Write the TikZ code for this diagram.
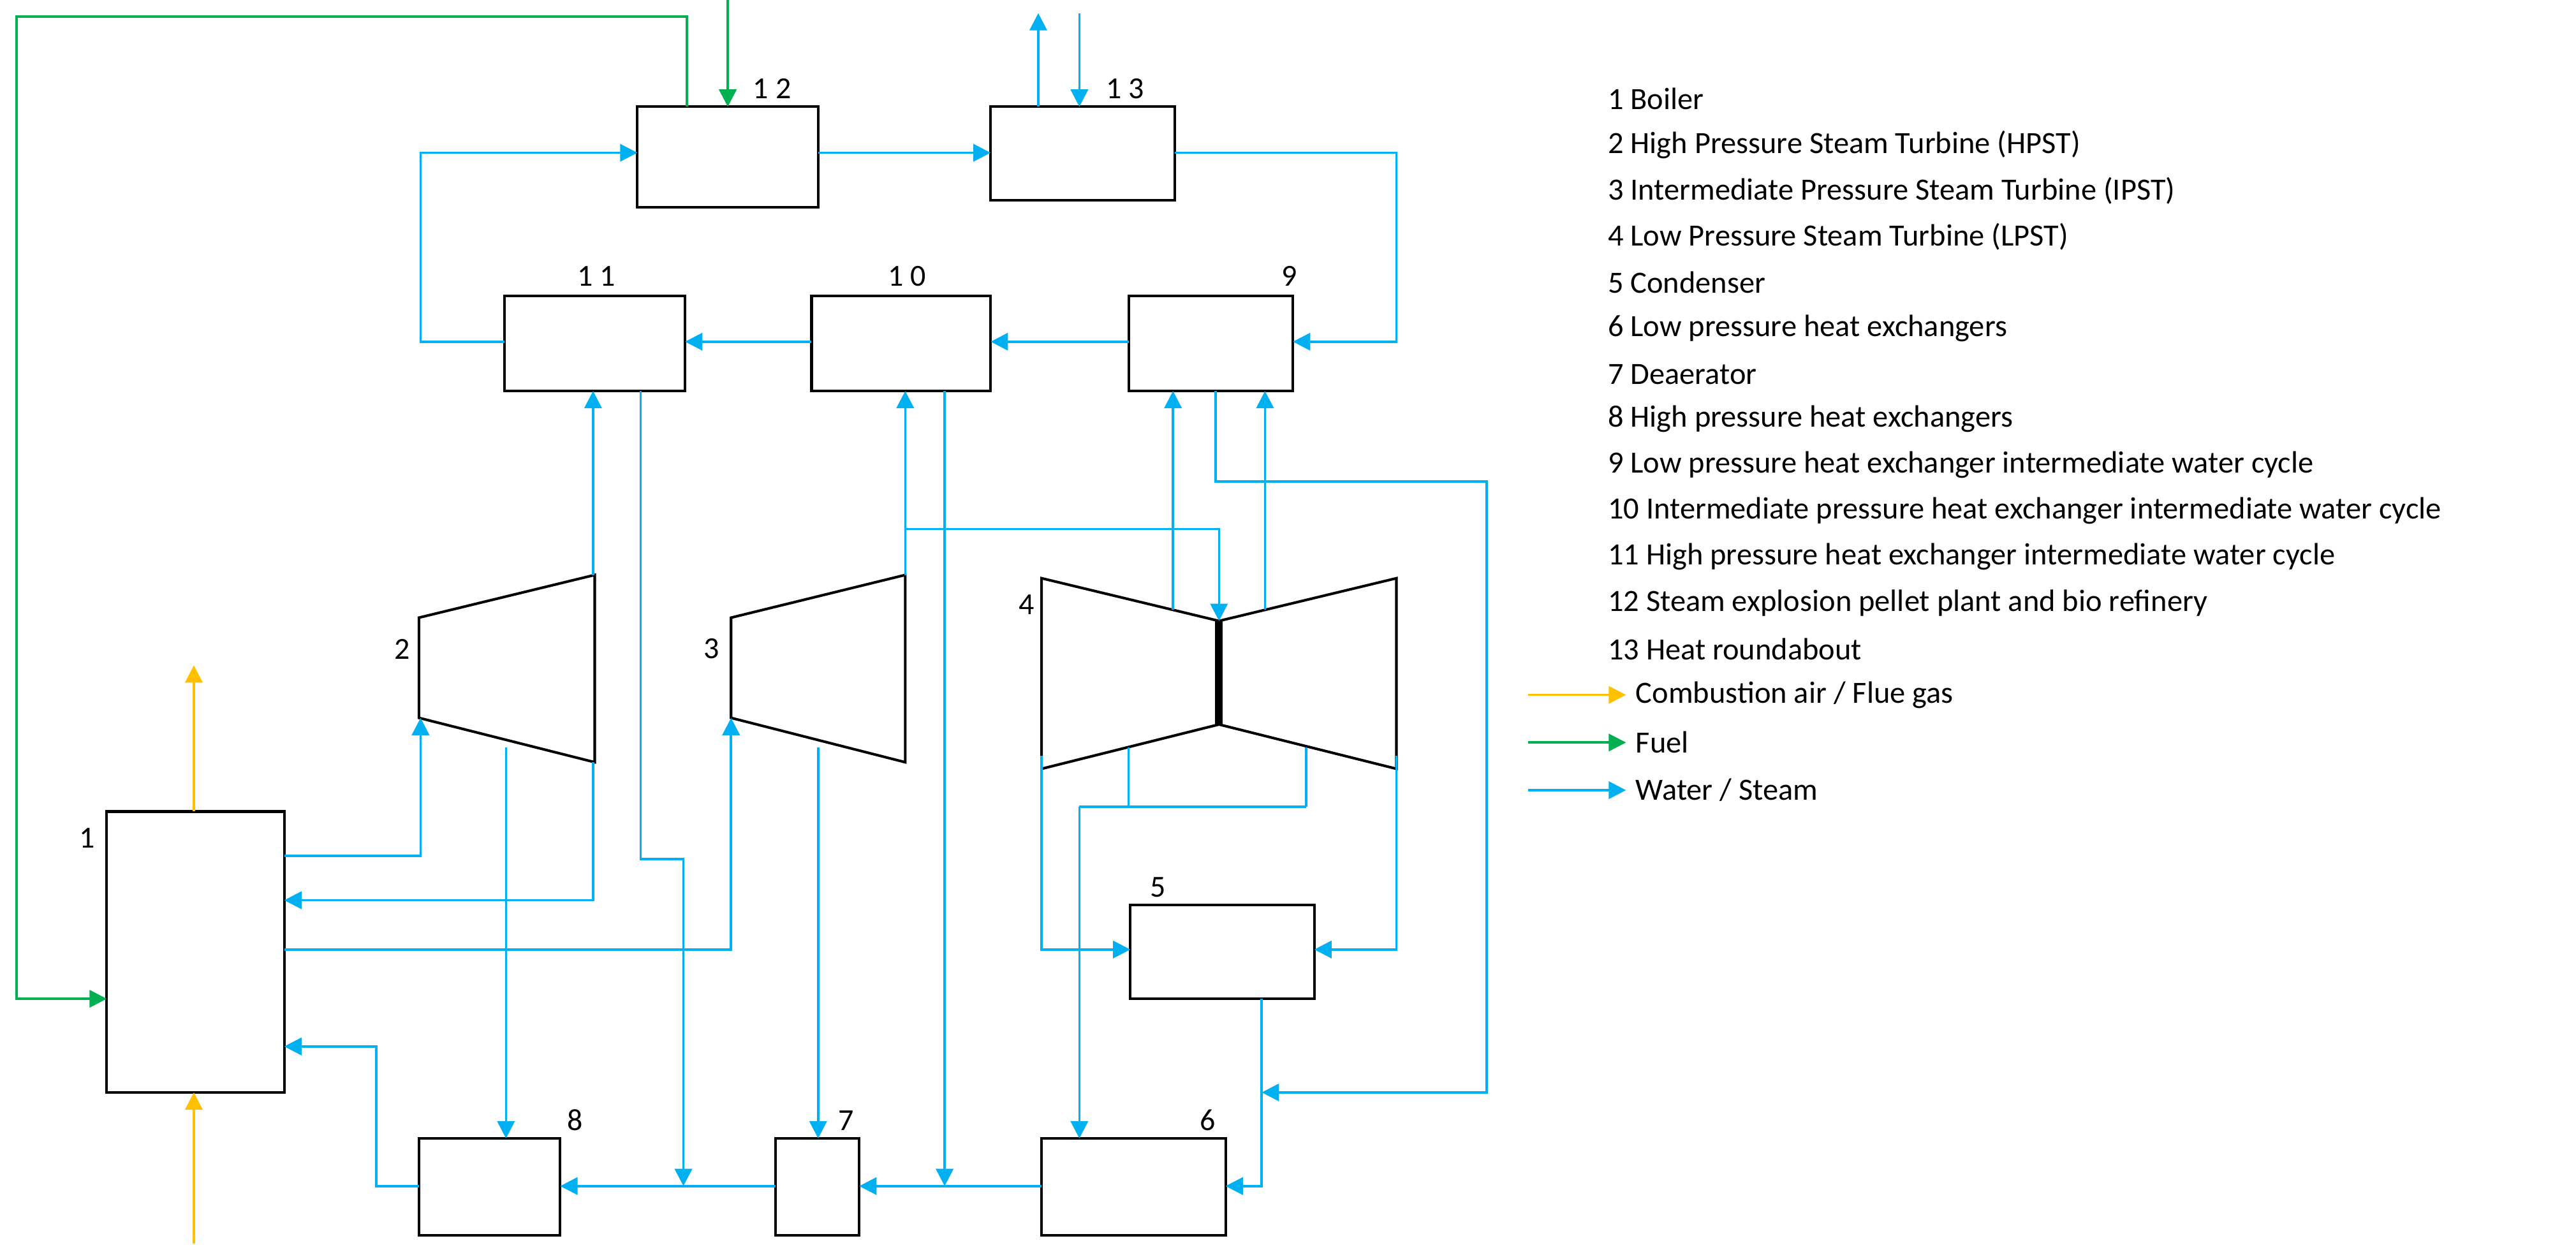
\documentclass[tikz,border=0pt]{standalone}
\usepackage{fontspec}
\setmainfont{Carlito}
\usetikzlibrary{arrows.meta}
\definecolor{bl}{RGB}{0,176,240}
\definecolor{og}{RGB}{255,192,0}
\definecolor{gr}{RGB}{0,176,80}
\begin{document}
\begin{tikzpicture}[x=0.1mm,y=-0.1mm,
  box/.style={draw,line width=0.45pt},
  w/.style={bl,line width=0.4pt,-{Triangle[length=3pt,width=3pt]}},
  wl/.style={bl,line width=0.4pt},
  f/.style={gr,line width=0.4pt,-{Triangle[length=3pt,width=3pt]}},
  a/.style={og,line width=0.4pt,-{Triangle[length=3pt,width=3pt]}},
  lab/.style={font=\fontsize{5.3}{6}\selectfont,inner sep=0pt},
  leg/.style={font=\fontsize{5.35}{6}\selectfont,inner sep=0pt,anchor=west}]
\useasboundingbox (0,0) rectangle (1568,765);
% boxes
\draw[box] (65,494) rectangle (173,665); \node[lab] (l1) at (53,510) {1};
\draw[box] (255,693) rectangle (341,752); \node[lab] (l8) at (350,682) {8};
\draw[box] (472,693) rectangle (523,752); \node[lab] (l7) at (515,682) {7};
\draw[box] (634,693) rectangle (746,752); \node[lab] (l6) at (735,682) {6};
\draw[box] (688,551) rectangle (800,608); \node[lab] (l5) at (705,540) {5};
\draw[box] (687,180) rectangle (787,238); \node[lab] (l9) at (785,168) {9};
\draw[box] (494,180) rectangle (603,238); \node[lab] (l10) at (552,168) {1 0};
\draw[box] (307,180) rectangle (417,238); \node[lab] (l11) at (363,168) {1 1};
\draw[box] (388,65) rectangle (498,126); \node[lab] (l12) at (470,54) {1 2};
\draw[box] (603,65) rectangle (715,122); \node[lab] (l13) at (685,54) {1 3};
% turbines
\draw[box] (255,376) -- (362,350) -- (362,464) -- (255,437) -- cycle; \node[lab] (l2) at (245,395) {2};
\draw[box] (445,376) -- (551,350) -- (551,464) -- (445,437) -- cycle; \node[lab] (l3) at (433,395) {3};
\draw[box] (742,378) -- (634,352) -- (634,468) -- (742,441);
\draw[box] (742,378) -- (850,352) -- (850,468) -- (742,441);
\draw[line width=1.3pt] (742,378) -- (742,441);
\node[lab] (l4) at (625,368) {4};
% fuel
\draw[f] (418,65) -- (418,10) -- (10,10) -- (10,608) -- (65,608);
\draw[f] (443,0) -- (443,65);
% air
\draw[a] (118,494) -- (118,405);
\draw[a] (118,757) -- (118,665);
% water/steam
\draw[w] (632,65) -- (632,8);
\draw[w] (657,8) -- (657,65);
\draw[w] (498,93) -- (603,93);
\draw[w] (715,93) -- (850,93) -- (850,208) -- (787,208);
\draw[w] (687,208) -- (603,208);
\draw[w] (494,208) -- (417,208);
\draw[w] (307,208) -- (256,208) -- (256,93) -- (388,93);
\draw[w] (173,521) -- (256,521) -- (256,437);
\draw[w] (361,464) -- (361,548) -- (173,548);
\draw[w] (361,350) -- (361,238);
\draw[w] (308,455) -- (308,693);
\draw[w] (173,578) -- (445,578) -- (445,437);
\draw[w] (498,455) -- (498,693);
\draw[w] (551,350) -- (551,238);
\draw[w] (551,322) -- (742,322) -- (742,378);
\draw[w] (714,371) -- (714,238);
\draw[w] (770,371) -- (770,238);
\draw[w] (740,238) -- (740,293) -- (905,293) -- (905,665) -- (768,665);
\draw[w] (768,608) -- (768,722) -- (746,722);
\draw[w] (575,238) -- (575,722);
\draw[w] (634,722) -- (523,722);
\draw[w] (390,238) -- (390,523) -- (416,523) -- (416,722);
\draw[w] (472,722) -- (341,722);
\draw[w] (255,722) -- (229,722) -- (229,637) -- (173,637);
\draw[w] (634,460) -- (634,578) -- (688,578);
\draw[w] (850,460) -- (850,578) -- (800,578);
\draw[wl] (687,455) -- (687,491); \draw[wl] (795,455) -- (795,491);
\draw[wl] (657,491) -- (795,491);
\draw[w] (657,491) -- (657,693);
% legend
\node[leg] (t1) at (978,60) {1 Boiler};
\node[leg] (t2) at (978,88) {2 High Pressure Steam Turbine (HPST)};
\node[leg] (t3) at (978,116) {3 Intermediate Pressure Steam Turbine (IPST)};
\node[leg] (t4) at (978,144) {4 Low Pressure Steam Turbine (LPST)};
\node[leg] (t5) at (978,172) {5 Condenser};
\node[leg] (t6) at (978,200) {6 Low pressure heat exchangers};
\node[leg] (t7) at (978,228) {7 Deaerator};
\node[leg] (t8) at (978,255) {8 High pressure heat exchangers};
\node[leg] (t9) at (978,283) {9 Low pressure heat exchanger intermediate water cycle};
\node[leg] (t10) at (978,311) {10 Intermediate pressure heat exchanger intermediate water cycle};
\node[leg] (t11) at (978,339) {11 High pressure heat exchanger intermediate water cycle};
\node[leg] (t12) at (978,367) {12 Steam explosion pellet plant and bio refinery};
\node[leg] (t13) at (978,395) {13 Heat roundabout};
\coordinate (c1) at (930,423); \coordinate (c2) at (930,452); \coordinate (c3) at (930,481);
\node[leg] (t14) at (995,423) {Combustion air / Flue gas};
\node[leg] (t15) at (995,452) {Fuel};
\node[leg] (t16) at (995,481) {Water / Steam};
\draw[a] (c1) -- ([xshift=-1.5pt]t14.west);
\draw[f] (c2) -- ([xshift=-1.5pt]t15.west);
\draw[w] (c3) -- ([xshift=-1.5pt]t16.west);
\end{tikzpicture}
\end{document}
